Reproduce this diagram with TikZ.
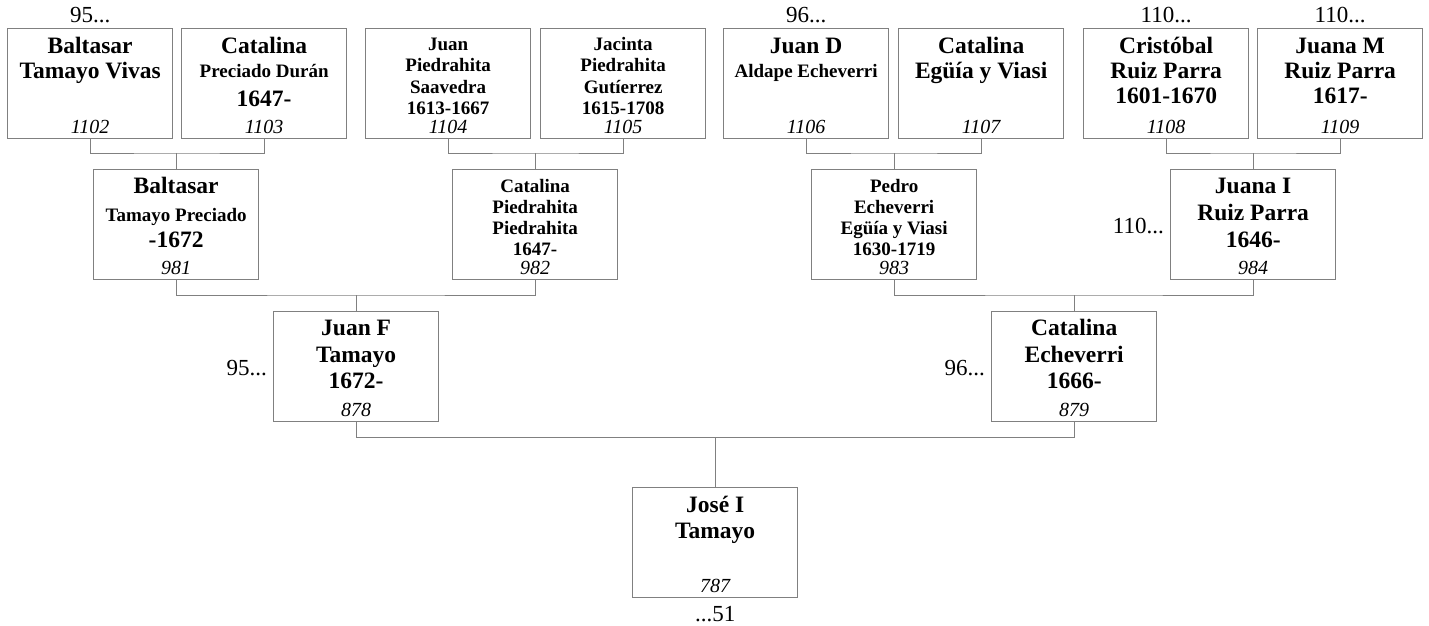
\documentclass[tikz,border=0pt]{standalone}
\usepackage{fontspec}
\setmainfont{Liberation Serif}
\definecolor{linegray}{RGB}{128,128,128}
\tikzset{
 person/.style={draw=linegray, line width=1.3pt, minimum width=165pt, minimum height=109.5pt, inner sep=0pt, anchor=north west},
 bigtxt/.style={font=\fontsize{23.5}{26}\selectfont\bfseries, anchor=base, inner sep=0pt},
 smalltxt/.style={font=\fontsize{19}{21}\selectfont\bfseries, anchor=base, inner sep=0pt},
 numtxt/.style={font=\fontsize{20}{22}\selectfont\itshape, anchor=base, inner sep=0pt},
 reftxt/.style={font=\fontsize{23}{25}\selectfont, inner sep=0pt},
 conn/.style={draw=linegray, line width=1pt},
}
\newcommand\pline[5]{\node[#1] (#2#3) at ([yshift=-#4pt]#2.north) {#5};}
\newcommand\pnum[2]{\node[numtxt] (#1n) at ([yshift=5pt]#1.south) {#2};}
\begin{document}
\begin{tikzpicture}[x=1pt,y=-1pt]
\useasboundingbox (0,0) rectangle (1429,625);
% boxes
\node[person] (p1102) at (7,28) {};
\node[person] (p1103) at (181,28) {};
\node[person] (p1104) at (365,28) {};
\node[person] (p1105) at (540,28) {};
\node[person] (p1106) at (723,28) {};
\node[person] (p1107) at (898,28) {};
\node[person] (p1108) at (1083,28) {};
\node[person] (p1109) at (1257,28) {};
\node[person] (p981) at (93,169) {};
\node[person] (p982) at (452,169) {};
\node[person] (p983) at (811,169) {};
\node[person] (p984) at (1170,169) {};
\node[person] (p878) at (273,311) {};
\node[person] (p879) at (991,311) {};
\node[person] (p787) at (632,487) {};
% texts, top row
\pline{bigtxt}{p1102}{a}{25}{Baltasar}
\pline{bigtxt}{p1102}{b}{50}{Tamayo Vivas}
\pnum{p1102}{1102}
\pline{bigtxt}{p1103}{a}{25}{Catalina}
\pline{smalltxt}{p1103}{b}{49}{Preciado Durán}
\pline{bigtxt}{p1103}{c}{78}{1647-}
\pnum{p1103}{1103}
\pline{smalltxt}{p1104}{a}{22}{Juan}
\pline{smalltxt}{p1104}{b}{43}{Piedrahita}
\pline{smalltxt}{p1104}{c}{65}{Saavedra}
\pline{smalltxt}{p1104}{d}{86}{1613-1667}
\pnum{p1104}{1104}
\pline{smalltxt}{p1105}{a}{22}{Jacinta}
\pline{smalltxt}{p1105}{b}{43}{Piedrahita}
\pline{smalltxt}{p1105}{c}{65}{Gutíerrez}
\pline{smalltxt}{p1105}{d}{86}{1615-1708}
\pnum{p1105}{1105}
\pline{bigtxt}{p1106}{a}{25}{Juan D}
\pline{smalltxt}{p1106}{b}{49}{Aldape Echeverri}
\pnum{p1106}{1106}
\pline{bigtxt}{p1107}{a}{25}{Catalina}
\pline{bigtxt}{p1107}{b}{50}{Egüía y Viasi}
\pnum{p1107}{1107}
\pline{bigtxt}{p1108}{a}{25}{Cristóbal}
\pline{bigtxt}{p1108}{b}{50}{Ruiz Parra}
\pline{bigtxt}{p1108}{c}{75}{1601-1670}
\pnum{p1108}{1108}
\pline{bigtxt}{p1109}{a}{25}{Juana M}
\pline{bigtxt}{p1109}{b}{50}{Ruiz Parra}
\pline{bigtxt}{p1109}{c}{75}{1617-}
\pnum{p1109}{1109}
% middle row
\pline{bigtxt}{p981}{a}{24}{Baltasar}
\pline{smalltxt}{p981}{b}{52}{Tamayo Preciado}
\pline{bigtxt}{p981}{c}{78}{-1672}
\pnum{p981}{981}
\pline{smalltxt}{p982}{a}{23}{Catalina}
\pline{smalltxt}{p982}{b}{44}{Piedrahita}
\pline{smalltxt}{p982}{c}{65}{Piedrahita}
\pline{smalltxt}{p982}{d}{86}{1647-}
\pnum{p982}{982}
\pline{smalltxt}{p983}{a}{23}{Pedro}
\pline{smalltxt}{p983}{b}{44}{Echeverri}
\pline{smalltxt}{p983}{c}{65}{Egüía y Viasi}
\pline{smalltxt}{p983}{d}{86}{1630-1719}
\pnum{p983}{983}
\pline{bigtxt}{p984}{a}{24}{Juana I}
\pline{bigtxt}{p984}{b}{51}{Ruiz Parra}
\pline{bigtxt}{p984}{c}{78}{1646-}
\pnum{p984}{984}
% third row
\pline{bigtxt}{p878}{a}{24}{Juan F}
\pline{bigtxt}{p878}{b}{51}{Tamayo}
\pline{bigtxt}{p878}{c}{77}{1672-}
\pnum{p878}{878}
\pline{bigtxt}{p879}{a}{24}{Catalina}
\pline{bigtxt}{p879}{b}{51}{Echeverri}
\pline{bigtxt}{p879}{c}{77}{1666-}
\pnum{p879}{879}
\pline{bigtxt}{p787}{a}{25}{José I}
\pline{bigtxt}{p787}{b}{51}{Tamayo}
\pnum{p787}{787}
% reference labels
\node[reftxt, anchor=base] (r1102) at ([yshift=6pt]p1102.north) {95...};
\node[reftxt, anchor=base] (r1106) at ([yshift=6pt]p1106.north) {96...};
\node[reftxt, anchor=base] (r1108) at ([yshift=6pt]p1108.north) {110...};
\node[reftxt, anchor=base] (r1109) at ([yshift=6pt]p1109.north) {110...};
\node[reftxt, anchor=base east] (r984) at ([xshift=-6pt,yshift=-9pt]p984.west) {110...};
\node[reftxt, anchor=base east] (r878) at ([xshift=-6pt,yshift=-9pt]p878.west) {95...};
\node[reftxt, anchor=base east] (r879) at ([xshift=-6pt,yshift=-9pt]p879.west) {96...};
\node[reftxt, anchor=base] (r787) at ([yshift=-23.5pt]p787.south) {...51};
% connectors
\coordinate (j981) at ([yshift=16pt]p981.north);
\coordinate (j982) at ([yshift=16pt]p982.north);
\coordinate (j983) at ([yshift=16pt]p983.north);
\coordinate (j984) at ([yshift=16pt]p984.north);
\coordinate (j878) at ([yshift=16pt]p878.north);
\coordinate (j879) at ([yshift=16pt]p879.north);
\path (p878.south) ++(0,16) coordinate (h787);
\coordinate (j787) at (p787.north |- h787);
\draw[conn] (p1102.south) |- (j981) -| (p1103.south);
\draw[conn] (j981) -- (p981.north);
\draw[conn] (p1104.south) |- (j982) -| (p1105.south);
\draw[conn] (j982) -- (p982.north);
\draw[conn] (p1106.south) |- (j983) -| (p1107.south);
\draw[conn] (j983) -- (p983.north);
\draw[conn] (p1108.south) |- (j984) -| (p1109.south);
\draw[conn] (j984) -- (p984.north);
\draw[conn] (p981.south) |- (j878) -| (p982.south);
\draw[conn] (j878) -- (p878.north);
\draw[conn] (p983.south) |- (j879) -| (p984.south);
\draw[conn] (j879) -- (p879.north);
\draw[conn] (p878.south) |- (j787) -| (p879.south);
\draw[conn] (j787) -- (p787.north);
\end{tikzpicture}
\end{document}
